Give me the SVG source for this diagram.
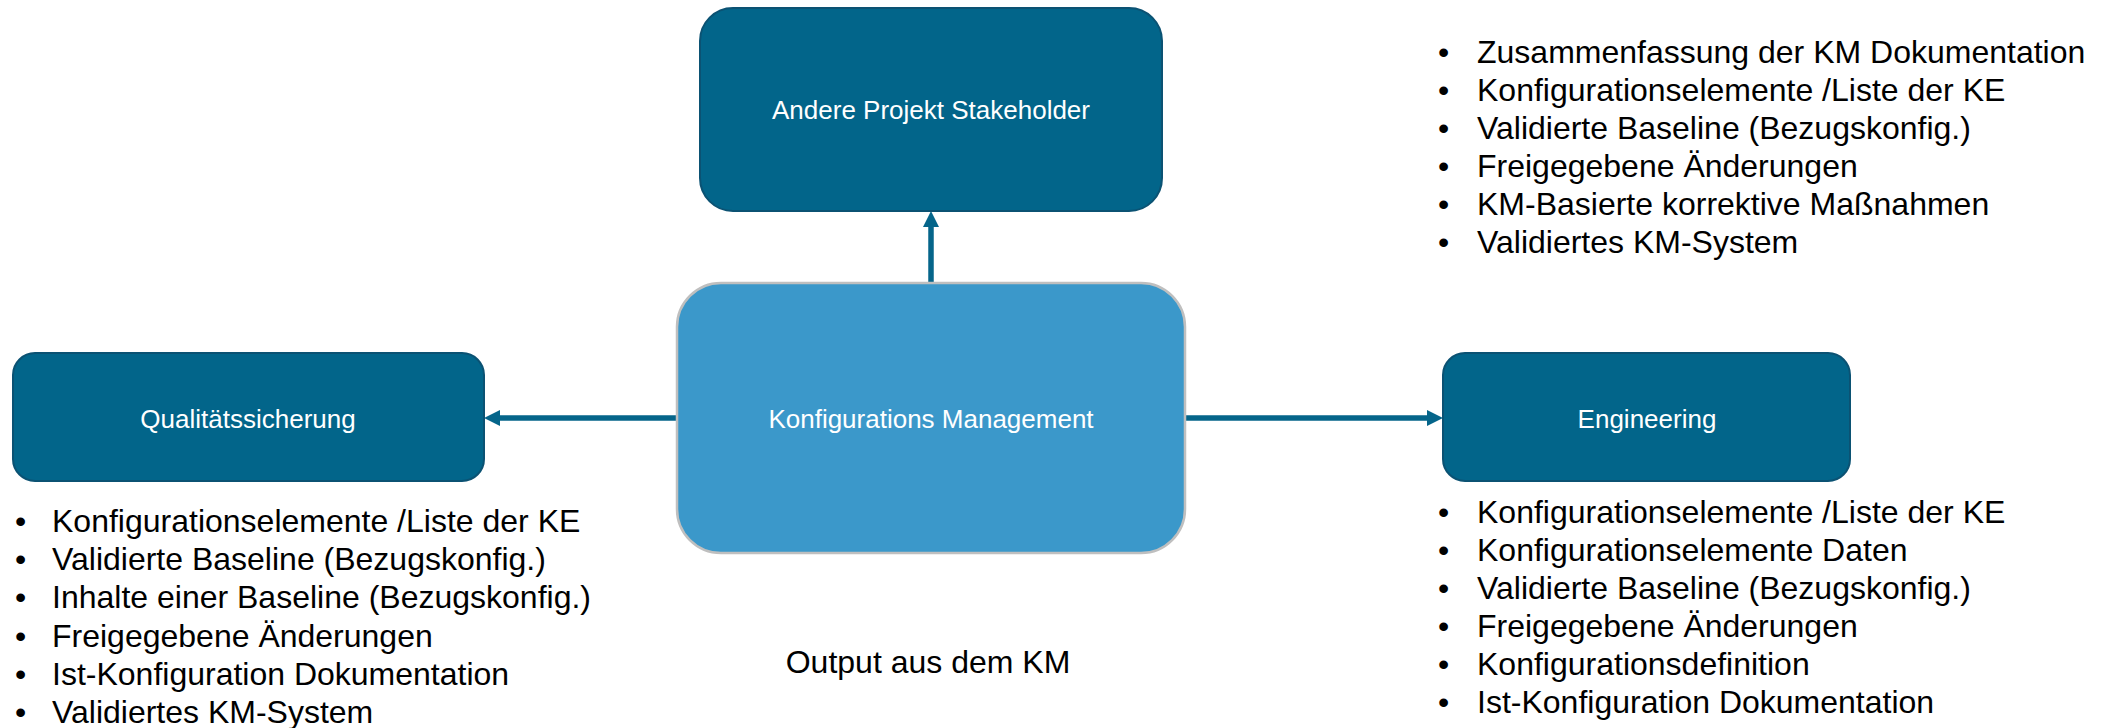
<svg xmlns="http://www.w3.org/2000/svg" width="2102" height="728" viewBox="0 0 2102 728">
<defs>
<style>
.dark{fill:#02658A;stroke:#0B5273;stroke-width:2}
.main{fill:#3B98CA;stroke:#BFBFBF;stroke-width:2.5}
.lbl{font-family:"Liberation Sans",Arial,sans-serif;font-size:26px;fill:#FFFFFF;text-anchor:middle}
.lst{font-family:"Liberation Sans",Arial,sans-serif;font-size:32px;fill:#000000}
.conn{stroke:#05658A;stroke-width:5.5;fill:none}
.head{fill:#05658A}
</style>
</defs>
<rect width="2102" height="728" fill="#FFFFFF"/>
<g id="connectors">
<line class="conn" x1="931" y1="283" x2="931" y2="225"/>
<polygon class="head" points="931,211 923,227 939,227"/>
<line class="conn" x1="676" y1="418" x2="498" y2="418"/>
<polygon class="head" points="484,418 500,410 500,426"/>
<line class="conn" x1="1186" y1="418" x2="1429" y2="418"/>
<polygon class="head" points="1443,418 1427,410 1427,426"/>
</g>
<g id="node-stakeholder">
<rect class="dark" x="700" y="8" width="462" height="203" rx="33" ry="33"/>
<text class="lbl" x="931" y="119">Andere Projekt Stakeholder</text>
</g>
<g id="node-km">
<rect class="main" x="677" y="283" width="508" height="270" rx="44" ry="44"/>
<text class="lbl" x="931" y="428">Konfigurations Management</text>
</g>
<g id="node-qs">
<rect class="dark" x="13" y="353" width="471" height="128" rx="22" ry="22"/>
<text class="lbl" x="248" y="428">Qualitätssicherung</text>
</g>
<g id="node-eng">
<rect class="dark" x="1443" y="353" width="407" height="128" rx="22" ry="22"/>
<text class="lbl" x="1647" y="428">Engineering</text>
</g>
<g id="list-qs">
<text class="lst"><tspan x="15" y="532">•</tspan><tspan x="52" y="532">Konfigurationselemente /Liste der KE</tspan><tspan x="15" y="570">•</tspan><tspan x="52" y="570">Validierte Baseline (Bezugskonfig.)</tspan><tspan x="15" y="608">•</tspan><tspan x="52" y="608">Inhalte einer Baseline (Bezugskonfig.)</tspan><tspan x="15" y="647">•</tspan><tspan x="52" y="647">Freigegebene Änderungen</tspan><tspan x="15" y="685">•</tspan><tspan x="52" y="685">Ist-Konfiguration Dokumentation</tspan><tspan x="15" y="723">•</tspan><tspan x="52" y="723">Validiertes KM-System</tspan></text>
</g>
<g id="list-eng">
<text class="lst"><tspan x="1438" y="523">•</tspan><tspan x="1477" y="523">Konfigurationselemente /Liste der KE</tspan><tspan x="1438" y="561">•</tspan><tspan x="1477" y="561">Konfigurationselemente Daten</tspan><tspan x="1438" y="599">•</tspan><tspan x="1477" y="599">Validierte Baseline (Bezugskonfig.)</tspan><tspan x="1438" y="637">•</tspan><tspan x="1477" y="637">Freigegebene Änderungen</tspan><tspan x="1438" y="675">•</tspan><tspan x="1477" y="675">Konfigurationsdefinition</tspan><tspan x="1438" y="713">•</tspan><tspan x="1477" y="713">Ist-Konfiguration Dokumentation</tspan></text>
</g>
<g id="list-stakeholder">
<text class="lst"><tspan x="1438" y="63">•</tspan><tspan x="1477" y="63">Zusammenfassung der KM Dokumentation</tspan><tspan x="1438" y="101">•</tspan><tspan x="1477" y="101">Konfigurationselemente /Liste der KE</tspan><tspan x="1438" y="139">•</tspan><tspan x="1477" y="139">Validierte Baseline (Bezugskonfig.)</tspan><tspan x="1438" y="177">•</tspan><tspan x="1477" y="177">Freigegebene Änderungen</tspan><tspan x="1438" y="215">•</tspan><tspan x="1477" y="215">KM-Basierte korrektive Maßnahmen</tspan><tspan x="1438" y="253">•</tspan><tspan x="1477" y="253">Validiertes KM-System</tspan></text>
</g>
<g id="caption">
<text class="lst" x="928" y="673" text-anchor="middle">Output aus dem KM</text>
</g>
</svg>
